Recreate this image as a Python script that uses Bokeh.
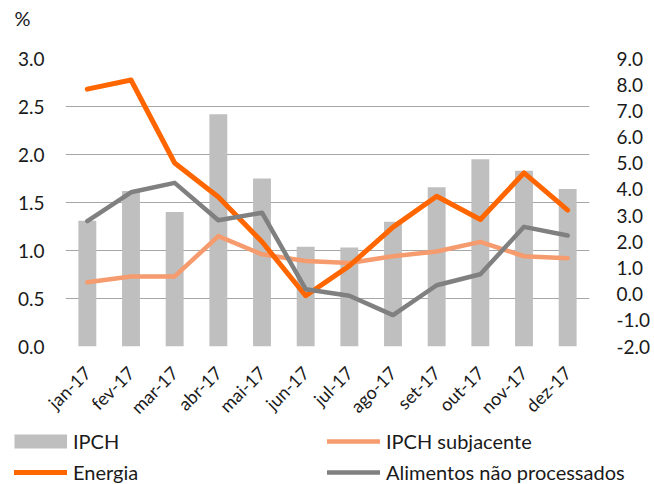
import math
from bokeh.plotting import figure
from bokeh.layouts import column
from bokeh.models import (Range1d, LinearAxis, FixedTicker, NumeralTickFormatter,
                          Legend, LegendItem, Label, FactorRange)
from bokeh.embed import file_html
from bokeh.resources import INLINE

# ---- data ----
months = ["jan-17", "fev-17", "mar-17", "abr-17", "mai-17", "jun-17",
          "jul-17", "ago-17", "set-17", "out-17", "nov-17", "dez-17"]
ipch = [1.31, 1.62, 1.40, 2.42, 1.75, 1.04, 1.03, 1.30, 1.66, 1.95, 1.83, 1.64]
ipch_subjacente = [0.67, 0.73, 0.73, 1.15, 0.96, 0.89, 0.87, 0.94, 0.99, 1.09, 0.94, 0.92]
energia = [7.83, 8.18, 5.01, 3.71, 2.00, -0.06, 1.08, 2.56, 3.74, 2.85, 4.63, 3.21]
alimentos = [2.79, 3.89, 4.25, 2.82, 3.11, 0.19, -0.06, -0.80, 0.34, 0.76, 2.57, 2.24]
left_ticks = [0.0, 0.5, 1.0, 1.5, 2.0, 2.5, 3.0]
right_ticks = [-2, -1, 0, 1, 2, 3, 4, 5, 6, 7, 8, 9]
series_names = ["IPCH", "IPCH subjacente", "Energia", "Alimentos não processados"]

FONT = "Lato"
TXT = "#1a1a1a"
GRID = "#a6a6a6"
C_BAR = "#bfbfbf"
C_SUB = "#f59b6e"
C_EN = "#ff6600"
C_AL = "#808080"
TICK_FS = "19px"
CAT_FS = "18px"
LEG_FS = "20px"

W = 654
TOP_H = 30
MAIN_H = 398
BOT_H = 56

# ---- top strip with the unit label ----
top = figure(width=W, height=TOP_H, output_backend="svg", toolbar_location=None,
             x_range=Range1d(0, 1), y_range=Range1d(0, 1),
             x_axis_location=None, y_axis_location=None, min_border=0,
             frame_align=False)
top.outline_line_color = None
top.grid.visible = False
top.add_layout(Label(x=14, y=13, x_units="screen", y_units="screen", text="%",
                     text_font=FONT, text_font_size=LEG_FS, text_color=TXT,
                     text_baseline="middle", text_align="left"))

# ---- main chart ----
p = figure(width=W, height=MAIN_H, output_backend="svg", toolbar_location=None,
           x_range=FactorRange(factors=months), y_range=Range1d(0, 3),
           min_border_left=65, min_border_right=65, min_border_top=28,
           min_border_bottom=80, frame_align=False)
p.outline_line_color = None
p.extra_y_ranges = {"right": Range1d(-2, 9)}

la = p.left[0]
la.ticker = FixedTicker(ticks=left_ticks)
la.formatter = NumeralTickFormatter(format="0.0")
la.axis_line_color = None
la.major_tick_line_color = None
la.minor_tick_line_color = None
la.major_tick_out = 0
la.major_label_standoff = 21
la.major_label_text_font = FONT
la.major_label_text_font_size = TICK_FS
la.major_label_text_color = TXT

ra = LinearAxis(y_range_name="right", ticker=FixedTicker(ticks=right_ticks),
                formatter=NumeralTickFormatter(format="0.0"))
ra.axis_line_color = None
ra.major_tick_line_color = None
ra.minor_tick_line_color = None
ra.major_tick_out = 0
ra.major_label_standoff = 27
ra.major_label_text_font = FONT
ra.major_label_text_font_size = TICK_FS
ra.major_label_text_color = TXT
p.add_layout(ra, "right")

xa = p.below[0]
xa.axis_line_color = None
xa.major_tick_line_color = None
xa.major_tick_out = 0
xa.major_label_orientation = math.pi / 4
xa.major_label_standoff = 23
xa.major_label_text_font = FONT
xa.major_label_text_font_size = CAT_FS
xa.major_label_text_color = TXT

p.xgrid.grid_line_color = None
p.ygrid.ticker = FixedTicker(ticks=left_ticks)
p.ygrid.grid_line_color = GRID
p.ygrid.grid_line_width = 1

p.vbar(x=months, top=ipch, bottom=0, width=0.41, fill_color=C_BAR, line_color=None)
p.line(x=months, y=ipch_subjacente, line_color=C_SUB, line_width=4.5,
       line_join="round", line_cap="round")
p.line(x=months, y=energia, y_range_name="right", line_color=C_EN, line_width=5,
       line_join="round", line_cap="round")
p.line(x=months, y=alimentos, y_range_name="right", line_color=C_AL, line_width=4.5,
       line_join="round", line_cap="round")

# ---- legend strip ----
bot = figure(width=W, height=BOT_H, output_backend="svg", toolbar_location=None,
             x_range=Range1d(0, 1), y_range=Range1d(0, 1),
             x_axis_location=None, y_axis_location=None, min_border=0,
             frame_align=False)
bot.outline_line_color = None
bot.grid.visible = False
# key renderers: their points lie outside the strip's ranges, so only the legend shows them
off = [5, 6]
k_bar = bot.line(x=off, y=off, line_color=C_BAR, line_width=14, line_cap="butt")
k_sub = bot.line(x=off, y=off, line_color=C_SUB, line_width=4.5, line_cap="round")
k_en = bot.line(x=off, y=off, line_color=C_EN, line_width=5, line_cap="round")
k_al = bot.line(x=off, y=off, line_color=C_AL, line_width=4.5, line_cap="round")

def add_key(label, rend, x, y):
    bot.add_layout(Legend(items=[LegendItem(label=label, renderers=[rend])],
                          location=(x, y), orientation="vertical",
                          padding=0, margin=0, spacing=0, glyph_width=53,
                          glyph_height=26, label_height=26, label_standoff=6,
                          border_line_alpha=0, background_fill_alpha=0,
                          label_text_font=FONT, label_text_font_size=LEG_FS,
                          label_text_color=TXT))

add_key(series_names[0], k_bar, 14, 30)
add_key(series_names[1], k_sub, 327, 30)
add_key(series_names[2], k_en, 14, -1)
add_key(series_names[3], k_al, 327, -1)

layout = column(top, p, bot, spacing=0)
open("out.html", "w").write(file_html(layout, INLINE))
